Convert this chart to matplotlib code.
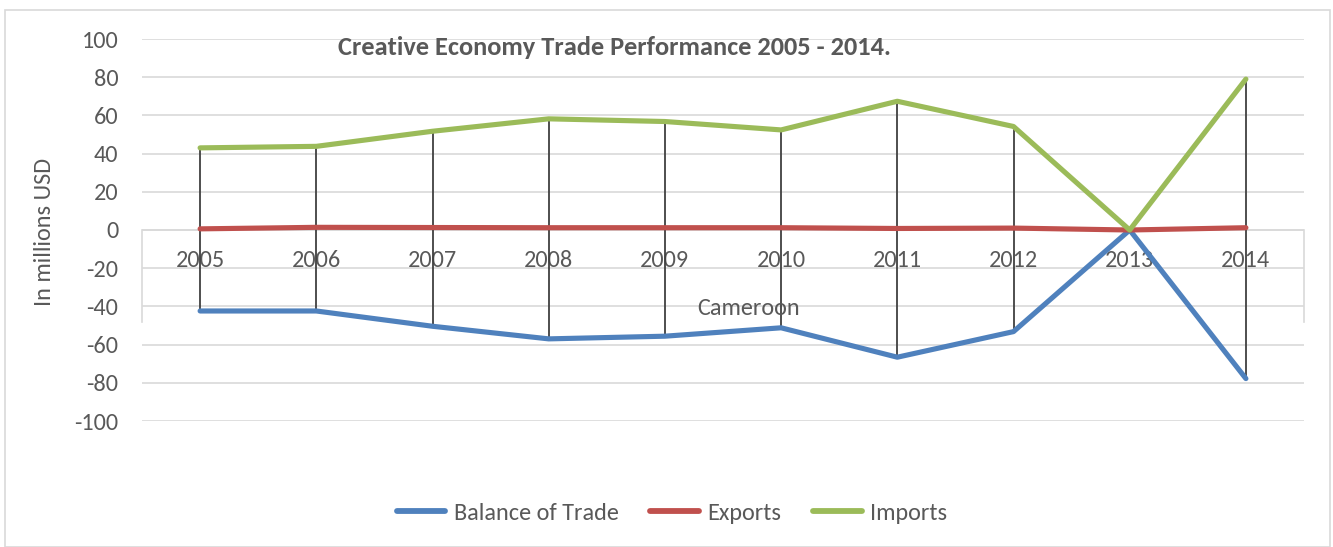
import matplotlib
matplotlib.use("Agg")
import matplotlib.pyplot as plt
from matplotlib.patches import Rectangle

years = ["2005", "2006", "2007", "2008", "2009", "2010", "2011", "2012", "2013", "2014"]
balance = [-42.4, -42.4, -50.4, -57.0, -55.6, -51.2, -66.6, -53.2, 0.0, -77.8]
exports = [0.6, 1.4, 1.3, 1.2, 1.2, 1.2, 0.8, 1.0, 0.0, 1.2]
imports = [43.0, 43.8, 51.7, 58.2, 56.8, 52.4, 67.4, 54.2, 0.0, 79.0]
yticks = [-100, -80, -60, -40, -20, 0, 20, 40, 60, 80, 100]

FONT = ["Carlito", "Lato", "DejaVu Sans"]
GRAY = "#595959"
FS = 17.5
plt.rcParams['font.family'] = FONT

fig = plt.figure(figsize=(13.33, 5.47), dpi=100)
ax = fig.add_axes([142/1333, 1-421/547, (1304-142)/1333, (421-39)/547])

# outer border
fig.patches.append(Rectangle((5/1333, 0.0), 1325/1333, 1-10/547, transform=fig.transFigure,
                             fill=False, edgecolor="#d9d9d9", linewidth=1.2))

x = list(range(len(years)))
ax.set_xlim(-0.5, len(years) - 0.5)
ax.set_ylim(-100, 100)
ax.set_yticks(yticks)
ax.set_yticklabels([str(v) for v in yticks], fontsize=FS, color=GRAY)
ax.tick_params(axis='y', length=0, pad=17)
ax.set_xticks([])
for s in ax.spines.values():
    s.set_visible(False)
ax.grid(axis='y', color="#d9d9d9", linewidth=1.2, zorder=0)

# zero axis line
ax.axhline(0, color="#d9d9d9", linewidth=1.2, zorder=1)
# edge segments below zero
for xe in (-0.5, len(years) - 0.5):
    ax.plot([xe, xe], [0, -48], color="#d9d9d9", linewidth=1.2, zorder=1, clip_on=False)

# high-low drop lines
for i in x:
    hi = max(balance[i], exports[i], imports[i])
    lo = min(balance[i], exports[i], imports[i])
    ax.plot([i, i], [lo, hi], color="#404040", linewidth=1.3, zorder=3)

LW = 3.7
ax.plot(x, balance, color="#4f81bd", linewidth=LW, label="Balance of Trade", zorder=4,
        solid_capstyle='round', solid_joinstyle='round')
ax.plot(x, exports, color="#c0504d", linewidth=LW, label="Exports", zorder=4,
        solid_capstyle='round', solid_joinstyle='round')
ax.plot(x, imports, color="#9bbb59", linewidth=LW, label="Imports", zorder=4,
        solid_capstyle='round', solid_joinstyle='round')

for i, yr in enumerate(years):
    ax.text(i, -16, yr, ha='center', va='center', fontsize=FS, color=GRAY, zorder=2)

ax.text(4.72, -41, "Cameroon", ha='center', va='center', fontsize=FS, color=GRAY)
ax.text(3.565, 95.5, "Creative Economy Trade Performance 2005 - 2014.", ha='center', va='center',
        fontsize=19, fontweight='bold', color=GRAY)

fig.text(45/1333, 1-232/547, "In millions USD", rotation=90, ha='center', va='center',
         fontsize=FS, color=GRAY)

leg = fig.legend(loc='center', bbox_to_anchor=(672/1333, 1-513/547), ncol=3, frameon=False,
                 fontsize=FS, handlelength=2.0, handletextpad=0.35, columnspacing=1.3)
for t in leg.get_texts():
    t.set_color(GRAY)
for h in leg.get_lines():
    h.set_linewidth(4.2)
    h.set_solid_capstyle('round')

fig.savefig("out.png", dpi=100)
